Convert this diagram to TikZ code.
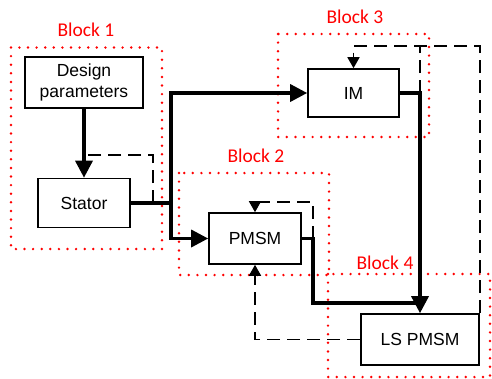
\documentclass[tikz,border=0pt]{standalone}
\usepackage{fontspec}
\setmainfont{Liberation Sans}
\newfontfamily\blockfont{Carlito}
\usetikzlibrary{arrows.meta}

\begin{document}
\begin{tikzpicture}
  [x=1pt, y=-1pt,
   box/.style = {draw, line width=1.6pt, inner sep=0pt, minimum width=92pt, minimum height=49pt,
     font=\fontsize{17.5}{21}\selectfont, align=center},
   blockframe/.style = {draw=red, line width=2.7pt, line cap=round, dash pattern=on 0pt off 8.6pt},
   blocklabel/.style = {text=red, font=\blockfont\fontsize{19.5}{22}\selectfont},
   flow/.style = {line width=3.4pt, -{Triangle[length=17pt,width=17pt]}},
   flowline/.style = {line width=3.4pt},
   feedback/.style = {line width=1.6pt, dash pattern=on 13pt off 7pt},
   fbarrow/.style = {feedback, -{Triangle[length=11pt,width=12pt]}}]
  \useasboundingbox (0,0) rectangle (492,378);
  \draw[blockframe] (11,47.5) rectangle (162,249);
  \draw[blockframe] (179,173) rectangle (329,275);
  \draw[blockframe] (278,34) rectangle (429,137);
  \draw[blockframe] (328,274) rectangle (490,377);
  \node (label1) [blocklabel] at (86,30) {Block 1};
  \node (label2) [blocklabel] at (256,156) {Block 2};
  \node (label3) [blocklabel] at (355,17) {Block 3};
  \node (label4) [blocklabel] at (385,263) {Block 4};
  \node (design) [box, minimum width=118pt, minimum height=51pt] at (84,82.5) {Design\\parameters};
  \node (stator) [box] at (84,203) {Stator};
  \node (im) [box, minimum width=91pt, minimum height=48pt] at (353.5,93) {IM};
  \node (pmsm) [box, minimum height=51pt] at (255,238.5) {PMSM};
  \node (lspmsm) [box, minimum width=118pt, minimum height=51pt] at (420,339.5) {LS PMSM};
  \coordinate (split) at (171,203);
  \coordinate (statorfb) at (153,203);
  \coordinate (imout) at (420,93);
  \coordinate (pmsmout) at (313,238.5);
  \coordinate (join) at (420,303);
  \coordinate (fbtop) at (0,46);
  % main flow
  \draw[flow] (design) -- (stator);
  \draw[flowline] (stator.east) -- (split);
  \draw[flow] (split) |- (im.west);
  \draw[flow] (split) |- (pmsm.west);
  \draw[flow] (im.east) -| (lspmsm.north);
  \draw[flowline] (pmsm.east) -- (pmsmout) |- (join);
  % feedback loops
  \draw[feedback] (statorfb) -- ++(0,-48) -- ++(-69,0);
  \draw[feedback] (imout) -- (imout |- fbtop);
  \draw[fbarrow] (lspmsm.north east) |- (im.north |- fbtop) -- (im.north);
  \draw[fbarrow] (pmsmout) -- ++(0,-36.5) -| (pmsm.north);
  \draw[fbarrow] (lspmsm.west) -| (pmsm.south);
\end{tikzpicture}
\end{document}
